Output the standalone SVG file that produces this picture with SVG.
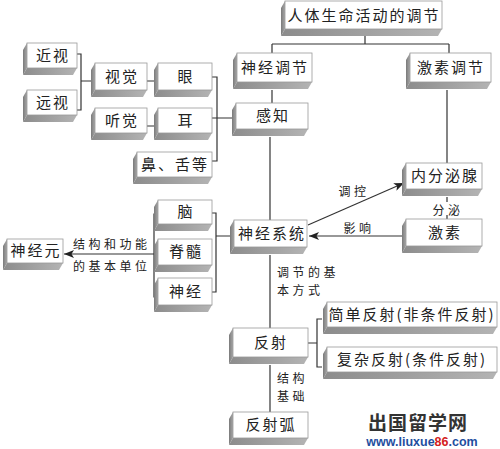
<svg xmlns="http://www.w3.org/2000/svg" width="500" height="449" viewBox="0 0 500 449">
<defs>
<linearGradient id="gb" x1="0" y1="0" x2="1" y2="0"><stop offset="0" stop-color="#8c8c8c"/><stop offset="1" stop-color="#b4b4b4"/></linearGradient>
<linearGradient id="gs" x1="0" y1="0" x2="1" y2="0"><stop offset="0" stop-color="#7a7a7a"/><stop offset="1" stop-color="#a8a8a8"/></linearGradient>
<marker id="ar" viewBox="0 0 10 8" refX="10" refY="4" markerWidth="10" markerHeight="8" markerUnits="userSpaceOnUse" orient="auto"><path d="M0,0 L10,4 L0,8 L2.5,4 Z" fill="#222"/></marker>
<style>
.face{fill:#fff;stroke:#9a9a9a;stroke-width:0.8}
.side{fill:url(#gs)}
.bot{fill:url(#gb)}
.t{font-family:"Noto Sans CJK SC","Noto Sans",sans-serif;font-size:15px;fill:#222;text-anchor:middle;letter-spacing:2px}
.l{font-family:"Noto Sans CJK SC","Noto Sans",sans-serif;font-size:12px;fill:#222;letter-spacing:3.5px}
.c{fill:none;stroke:#333;stroke-width:1.2}
</style>
</defs>
<g id="connectors">
<path class="c" d="M365,36 V44 M272,44 H449 M272,44 V53 M449,44 V53"/>
<path class="c" d="M272,90 V103"/>
<path class="c" d="M270,137 V220"/>
<path class="c" d="M447,90 V163"/>
<path class="c" d="M447,197 V202 M447,215 V219"/>
<path class="c" d="M308,225 L404,183" marker-end="url(#ar)"/>
<path class="c" d="M405,236 H309" marker-end="url(#ar)"/>
<path class="c" d="M212,77 H217 V161 H212 M212,118 H235"/>
<path class="c" d="M147,81 H158 M147,126 H158"/>
<path class="c" d="M77,54 H81 V110 H77 M81,81 H95"/>
<path class="c" d="M212,213 H216 V292 H212 M216,236 H234"/>
<path class="c" d="M158,214 H154 V297 H158"/>
<path class="c" d="M154,254 H64" marker-end="url(#ar)"/>
<path class="c" d="M270,255 V328"/>
<path class="c" d="M308,343 H317 M322,319 H317 V367 H322"/>
<path class="c" d="M270,365 V412"/>
</g>
<g id="labels">
<text class="l" x="354" y="196" text-anchor="middle">调控</text>
<text class="l" x="359" y="233" text-anchor="middle">影响</text>
<text class="l" x="448" y="215" text-anchor="middle">分泌</text>
<text class="l" x="73" y="249">结构和功能</text>
<text class="l" x="73" y="271">的基本单位</text>
<text class="l" x="277" y="277">调节的基</text>
<text class="l" x="277" y="295">本方式</text>
<text class="l" x="277" y="383" letter-spacing="7px">结构</text>
<text class="l" x="277" y="401">基础</text>
</g>
<g id="n1"><polygon class="side" points="285,1 281,8 281,36 285,29"/><polygon class="bot" points="285,29 442,29 438,36 281,36"/><rect class="face" x="285" y="1" width="157" height="28"/><text class="t" x="364" y="21">人体生命活动的调节</text></g>
<g id="n2"><polygon class="side" points="237,53 233,60 233,89 237,82"/><polygon class="bot" points="237,82 312,82 308,89 233,89"/><rect class="face" x="237" y="53" width="75" height="29"/><text class="t" x="275" y="73">神经调节</text></g>
<g id="n3"><polygon class="side" points="410,53 406,60 406,89 410,82"/><polygon class="bot" points="410,82 491,82 487,89 406,89"/><rect class="face" x="410" y="53" width="81" height="29"/><text class="t" x="451" y="73">激素调节</text></g>
<g id="n4"><polygon class="side" points="236,103 232,110 232,136 236,129"/><polygon class="bot" points="236,129 308,129 304,136 232,136"/><rect class="face" x="236" y="103" width="72" height="26"/><text class="t" x="273" y="121">感知</text></g>
<g id="n5"><polygon class="side" points="406,163 402,170 402,196 406,189"/><polygon class="bot" points="406,189 482,189 478,196 402,196"/><rect class="face" x="406" y="163" width="76" height="26"/><text class="t" x="445" y="181">内分泌腺</text></g>
<g id="n6"><polygon class="side" points="406,219 402,226 402,253 406,246"/><polygon class="bot" points="406,246 482,246 478,253 402,253"/><rect class="face" x="406" y="219" width="76" height="27"/><text class="t" x="445" y="238">激素</text></g>
<g id="n7"><polygon class="side" points="234,220 230,227 230,254 234,247"/><polygon class="bot" points="234,247 307,247 303,254 230,254"/><rect class="face" x="234" y="220" width="73" height="27"/><text class="t" x="272" y="239">神经系统</text></g>
<g id="n8"><polygon class="side" points="158,200 154,207 154,231 158,224"/><polygon class="bot" points="158,224 212,224 208,231 154,231"/><rect class="face" x="158" y="200" width="54" height="24"/><text class="t" x="186" y="217">脑</text></g>
<g id="n9"><polygon class="side" points="158,239 154,246 154,272 158,265"/><polygon class="bot" points="158,265 212,265 208,272 154,272"/><rect class="face" x="158" y="239" width="54" height="26"/><text class="t" x="186" y="257">脊髓</text></g>
<g id="n10"><polygon class="side" points="158,278 154,285 154,312 158,305"/><polygon class="bot" points="158,305 212,305 208,312 154,312"/><rect class="face" x="158" y="278" width="54" height="27"/><text class="t" x="186" y="297">神经</text></g>
<g id="n11"><polygon class="side" points="7,239 3,246 3,270 7,263"/><polygon class="bot" points="7,263 63,263 59,270 3,270"/><rect class="face" x="7" y="239" width="56" height="24"/><text class="t" x="36" y="256">神经元</text></g>
<g id="n12"><polygon class="side" points="27,43 23,50 23,75 27,68"/><polygon class="bot" points="27,68 77,68 73,75 23,75"/><rect class="face" x="27" y="43" width="50" height="25"/><text class="t" x="53" y="61">近视</text></g>
<g id="n13"><polygon class="side" points="27,90 23,97 23,122 27,115"/><polygon class="bot" points="27,115 77,115 73,122 23,122"/><rect class="face" x="27" y="90" width="50" height="25"/><text class="t" x="53" y="108">远视</text></g>
<g id="n14"><polygon class="side" points="95,63 91,70 91,97 95,90"/><polygon class="bot" points="95,90 147,90 143,97 91,97"/><rect class="face" x="95" y="63" width="52" height="27"/><text class="t" x="122" y="82">视觉</text></g>
<g id="n15"><polygon class="side" points="158,63 154,70 154,97 158,90"/><polygon class="bot" points="158,90 212,90 208,97 154,97"/><rect class="face" x="158" y="63" width="54" height="27"/><text class="t" x="186" y="82">眼</text></g>
<g id="n16"><polygon class="side" points="95,108 91,115 91,140 95,133"/><polygon class="bot" points="95,133 147,133 143,140 91,140"/><rect class="face" x="95" y="108" width="52" height="25"/><text class="t" x="122" y="126">听觉</text></g>
<g id="n17"><polygon class="side" points="158,108 154,115 154,140 158,133"/><polygon class="bot" points="158,133 212,133 208,140 154,140"/><rect class="face" x="158" y="108" width="54" height="25"/><text class="t" x="186" y="126">耳</text></g>
<g id="n18"><polygon class="side" points="137,152 133,159 133,184 137,177"/><polygon class="bot" points="137,177 212,177 208,184 133,184"/><rect class="face" x="137" y="152" width="75" height="25"/><text class="t" x="175" y="170">鼻、舌等</text></g>
<g id="n19"><polygon class="side" points="233,328 229,335 229,364 233,357"/><polygon class="bot" points="233,357 308,357 304,364 229,364"/><rect class="face" x="233" y="328" width="75" height="29"/><text class="t" x="271" y="348">反射</text></g>
<g id="n20"><polygon class="side" points="327,302 323,309 323,334 327,327"/><polygon class="bot" points="327,327 497,327 493,334 323,334"/><rect class="face" x="327" y="302" width="170" height="25"/><text class="t" x="412" y="320">简单反射(非条件反射)</text></g>
<g id="n21"><polygon class="side" points="327,347 323,354 323,379 327,372"/><polygon class="bot" points="327,372 497,372 493,379 323,379"/><rect class="face" x="327" y="347" width="170" height="25"/><text class="t" x="412" y="365">复杂反射(条件反射)</text></g>
<g id="n22"><polygon class="side" points="233,412 229,419 229,445 233,438"/><polygon class="bot" points="233,438 308,438 304,445 229,445"/><rect class="face" x="233" y="412" width="75" height="26"/><text class="t" x="271" y="430">反射弧</text></g>
<g id="watermark">
<text x="418" y="430" font-family="'Noto Sans CJK SC',sans-serif" font-size="19" font-weight="bold" fill="#333" text-anchor="middle" letter-spacing="1">出国留学网</text>
<text x="422" y="446" font-family="'Liberation Sans',Arial,sans-serif" font-size="12.5" font-weight="bold" fill="#1f4f9f" text-anchor="middle">www.liuxue<tspan fill="#d42020">86</tspan>.com</text>
</g>
</svg>
